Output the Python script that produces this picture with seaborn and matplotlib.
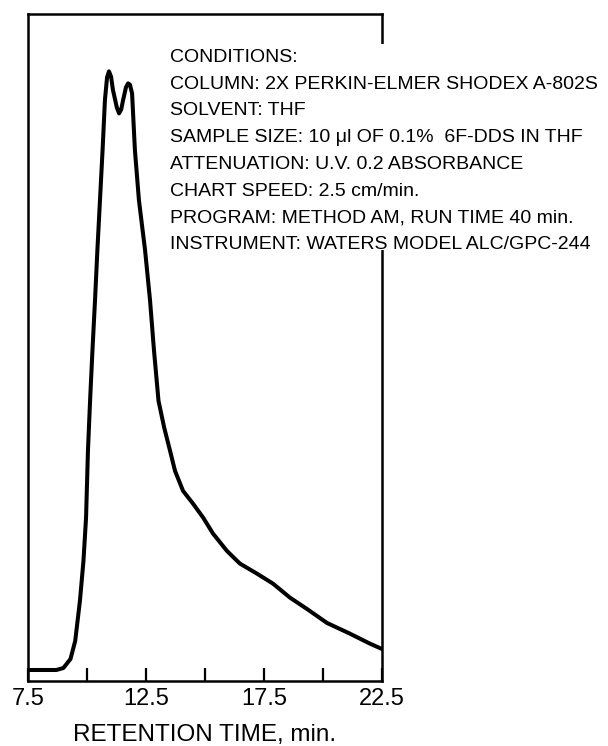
import matplotlib
matplotlib.use("Agg")
import matplotlib.pyplot as plt
import seaborn as sns
import pandas as pd
from matplotlib.patches import Rectangle

# ---- data ----
retention_time = [7.5, 8.7, 9.0, 9.3, 9.5, 9.7, 9.85, 9.96, 10.04, 10.13, 10.23, 10.34,
                  10.44, 10.55, 10.66, 10.76, 10.85, 10.93, 11.02, 11.1, 11.27, 11.36,
                  11.45, 11.53, 11.65, 11.74, 11.82, 11.91, 12.03, 12.2, 12.46, 12.67,
                  12.84, 13.03, 13.27, 13.52, 13.73, 14.07, 14.49, 14.92, 15.34, 15.93,
                  16.48, 17.2, 17.88, 18.6, 19.32, 20.17, 21.14, 21.99, 22.5]
absorbance = [1.65, 1.65, 1.95, 3.3, 6.0, 12.0, 18.0, 24.5, 34.5, 42.0, 49.5, 57.1,
              64.6, 72.1, 79.6, 87.1, 90.5, 91.4, 90.6, 88.6, 85.9, 85.1,
              85.7, 87.1, 89.0, 89.6, 89.4, 88.1, 79.6, 72.1, 64.6, 57.1,
              49.5, 42.0, 38.0, 34.5, 31.5, 28.5, 26.6, 24.5, 22.1, 19.5,
              17.6, 16.1, 14.6, 12.5, 10.8, 8.7, 7.1, 5.6, 4.8]
tick_values = [7.5, 10.0, 12.5, 15.0, 17.5, 20.0, 22.5]
tick_labels = ["7.5", "", "12.5", "", "17.5", "", "22.5"]
x_label = "RETENTION TIME, min."
conditions = [
    "CONDITIONS:",
    "COLUMN: 2X PERKIN-ELMER SHODEX A-802S",
    "SOLVENT: THF",
    "SAMPLE SIZE: 10 \u03bcl OF 0.1%  6F-DDS IN THF",
    "ATTENUATION: U.V. 0.2 ABSORBANCE",
    "CHART SPEED: 2.5 cm/min.",
    "PROGRAM: METHOD AM, RUN TIME 40 min.",
    "INSTRUMENT: WATERS MODEL ALC/GPC-244",
]

sns.set_theme(style="white")
plt.rcParams["font.family"] = ["Liberation Sans", "DejaVu Sans"]

W, H = 608, 746
fig = plt.figure(figsize=(W / 100, H / 100), dpi=100)
ax = fig.add_axes([28 / W, 1 - 681 / H, (382 - 28) / W, (681 - 14) / H])

df = pd.DataFrame({"t": retention_time, "a": absorbance})
sns.lineplot(data=df, x="t", y="a", ax=ax, color="black", linewidth=2.9,
             sort=False, estimator=None)

ax.set_xlim(7.5, 22.5)
ax.set_ylim(0, 100)
ax.set_yticks([])
ax.set_ylabel("")
ax.set_xticks(tick_values)
ax.set_xticklabels(tick_labels)
ax.tick_params(axis="x", direction="in", length=9.5, width=1.6, color="black",
               labelsize=17, pad=5, bottom=True, labelcolor="black")
ax.set_xlabel(x_label, fontsize=17.5, color="black", labelpad=10)
for s in ax.spines.values():
    s.set_visible(True)
    s.set_color("black")
    s.set_linewidth(1.8)

# white block behind the conditions text (covers the right frame)
rect = Rectangle((166 / W, 1 - 250 / H), (W - 166) / W, (250 - 44) / H,
                 transform=fig.transFigure, facecolor="white", edgecolor="none",
                 zorder=5)
fig.add_artist(rect)
for i, line in enumerate(conditions):
    y_base = 62 + i * 26.7
    fig.text(170 / W, 1 - y_base / H, line, fontsize=14, color="black",
             ha="left", va="baseline", zorder=6)

fig.savefig("out.png", dpi=100, facecolor="white")
